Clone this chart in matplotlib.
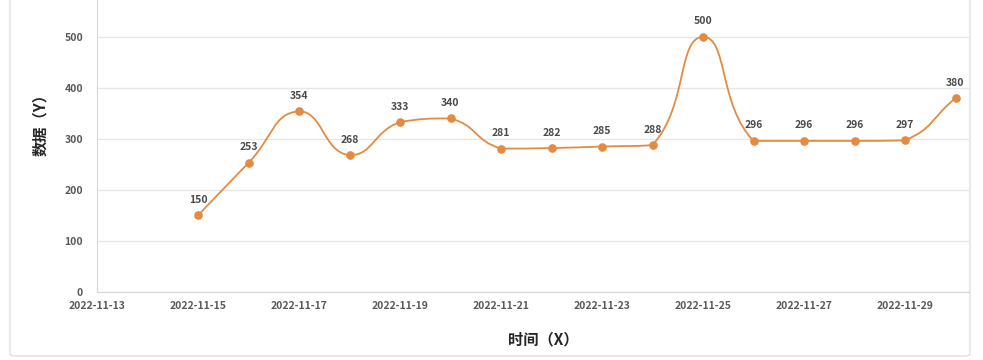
import matplotlib
matplotlib.use("Agg")
import matplotlib.pyplot as plt
import matplotlib.dates as mdates
from matplotlib.path import Path
from matplotlib.patches import PathPatch, FancyBboxPatch
import numpy as np
import datetime as dt

plt.rcParams['font.family'] = ['Noto Sans CJK SC', 'DejaVu Sans']

dates = ["2022-11-15", "2022-11-16", "2022-11-17", "2022-11-18", "2022-11-19",
         "2022-11-20", "2022-11-21", "2022-11-22", "2022-11-23", "2022-11-24",
         "2022-11-25", "2022-11-26", "2022-11-27", "2022-11-28", "2022-11-29",
         "2022-11-30"]
values = [150, 253, 354, 268, 333, 340, 281, 282, 285, 288, 500, 296, 296, 296, 297, 380]
tick_dates = ["2022-11-13", "2022-11-15", "2022-11-17", "2022-11-19", "2022-11-21",
              "2022-11-23", "2022-11-25", "2022-11-27", "2022-11-29"]
y_ticks = [0, 100, 200, 300, 400, 500]

color = "#E38B42"
text_col = "#5A5A5A"

W, H = 983, 360
fig = plt.figure(figsize=(W / 100, H / 100), dpi=100)

# card background
card = FancyBboxPatch((10 / W, 4 / H), 960 / W, 400 / H,
                      boxstyle="round,pad=0,rounding_size=0.006",
                      transform=fig.transFigure, facecolor="white",
                      edgecolor="#D9E1EA", linewidth=1.0, zorder=-5)
fig.patches.append(card)

ax = fig.add_axes([97 / W, 1 - 292 / H, (969 - 97) / W, 292 / H])
ax.set_facecolor("none")
ax.set_zorder(2)

x0 = mdates.date2num(dt.datetime(2022, 11, 13))
ax.set_xlim(x0, x0 + (969 - 97) / 50.5)
ax.set_ylim(0, 572)

x = mdates.date2num([dt.datetime.strptime(d, "%Y-%m-%d") for d in dates])
y = np.array(values, dtype=float)

# smooth curve (control points clamped between neighbours, no overshoot)
fig.canvas.draw()
P = ax.transData.transform(np.column_stack([x, y]))
n = len(P)
s = 0.5
cp_in = [None] * n
cp_out = [None] * n
for i in range(n):
    prev = P[i - 1] if i > 0 else P[i]
    nxt = P[i + 1] if i < n - 1 else P[i]
    v = nxt - prev
    lp = np.hypot(*(P[i] - prev))
    ln = np.hypot(*(nxt - P[i]))
    tot = lp + ln if lp + ln > 0 else 1.0
    co = P[i] + v * s * ln / tot
    ci = P[i] - v * s * lp / tot
    co = np.clip(co, np.minimum(P[i], nxt), np.maximum(P[i], nxt))
    ci = np.clip(ci, np.minimum(P[i], prev), np.maximum(P[i], prev))
    cp_in[i], cp_out[i] = ci, co
cp_out[0] = P[0]
verts = [P[0]]
codes = [Path.MOVETO]
for i in range(n - 1):
    verts += [cp_out[i], cp_in[i + 1], P[i + 1]]
    codes += [Path.CURVE4] * 3
verts = ax.transData.inverted().transform(np.array(verts))
ax.add_patch(PathPatch(Path(verts, codes), facecolor="none", edgecolor=color,
                       linewidth=1.3, zorder=3))
ax.plot(x, y, linestyle="none", marker="o", markersize=5.2, color=color, zorder=4)

for xi, yi in zip(x, y):
    ax.annotate(f"{int(yi)}", (xi, yi), xytext=(0, 7.5), textcoords="offset points",
                ha="center", va="bottom", fontsize=7.5, fontweight="bold",
                color="#4A4A4A")

tx = mdates.date2num([dt.datetime.strptime(d, "%Y-%m-%d") for d in tick_dates])
ax.set_xticks(tx)
ax.set_xticklabels(tick_dates, fontsize=7.5, color=text_col, fontweight="bold")
ax.set_yticks(y_ticks)
ax.set_yticklabels([str(v) for v in y_ticks], fontsize=7.5, color=text_col,
                   fontweight="bold")
ax.tick_params(axis="x", length=0, pad=6.5)
ax.tick_params(axis="y", length=0, pad=10)

ax.grid(axis="y", color="#E6E6E6", linewidth=0.9)
ax.set_axisbelow(True)
for sp in ["top", "right"]:
    ax.spines[sp].set_visible(False)
ax.spines["left"].set_color("#D9D9D9")
ax.spines["bottom"].set_color("#D9D9D9")
ax.spines["left"].set_linewidth(0.9)
ax.spines["bottom"].set_linewidth(0.9)

fig.text(543 / W, 1 - 339 / H, "时间（X）", ha="center", va="center",
         fontsize=11, fontweight="bold", color="#262626")
fig.text(40 / W, 1 - 121 / H, "数据（Y）", ha="center", va="center",
         fontsize=11, fontweight="bold", color="#262626", rotation=90)

fig.savefig("out.png", dpi=100)
